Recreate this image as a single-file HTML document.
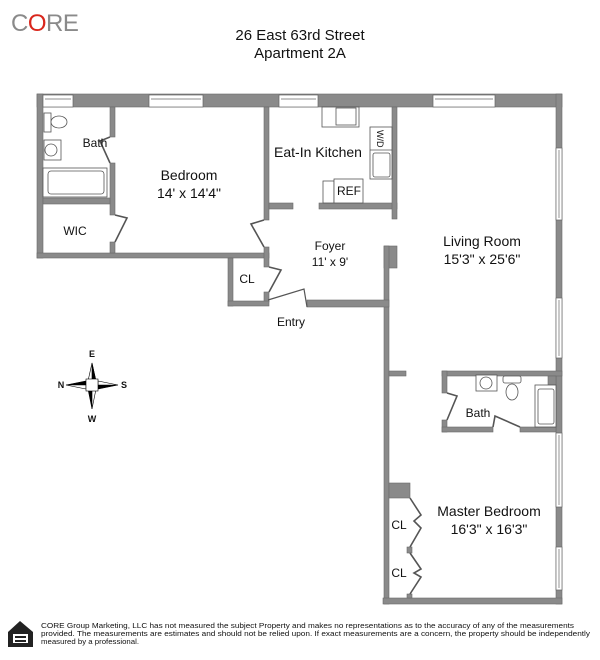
<!DOCTYPE html>
<html><head><meta charset="utf-8"><style>
html,body{margin:0;padding:0;background:#fff;width:600px;height:660px;overflow:hidden}
svg{display:block}
text{font-family:"Liberation Sans",Arial,sans-serif;fill:#111}
</style></head><body>
<svg width="600" height="660" viewBox="0 0 600 660" xmlns="http://www.w3.org/2000/svg">
<text x="11" y="31" font-size="24" fill="#888" style="fill:#8a8a8a;letter-spacing:-0.5px">C<tspan style="fill:#d9261c">O</tspan>RE</text>
<text x="300" y="40" font-size="15" text-anchor="middle">26 East 63rd Street</text>
<text x="300" y="58" font-size="15" text-anchor="middle">Apartment 2A</text>

<g fill="#8a8a8a" stroke="#6a6a6a" stroke-width="0.6">
<rect x="37" y="94" width="525" height="13"/>
<rect x="37" y="94" width="6" height="164"/>
<rect x="37" y="253" width="232" height="5"/>
<rect x="110" y="107" width="5" height="30"/>
<rect x="110" y="163" width="5" height="52"/>
<rect x="110" y="242" width="5" height="11"/>
<rect x="43" y="198" width="67" height="6"/>
<rect x="264" y="107" width="5" height="113"/>
<rect x="264" y="247" width="5" height="20"/>
<rect x="264" y="292" width="5" height="10"/>
<rect x="228" y="258" width="5" height="48"/>
<rect x="228" y="301" width="41" height="5"/>
<rect x="269" y="203" width="24" height="6"/>
<rect x="319" y="203" width="78" height="6"/>
<rect x="392" y="107" width="5" height="112"/>
<rect x="556" y="94" width="6" height="510"/>
<rect x="384" y="246" width="13" height="22"/>
<rect x="384" y="246" width="5" height="358"/>
<rect x="307" y="300" width="82" height="7"/>
<rect x="389" y="371" width="17" height="5"/>
<rect x="442" y="371" width="120" height="5"/>
<rect x="442" y="371" width="5" height="22"/>
<rect x="442" y="420" width="5" height="12"/>
<rect x="442" y="427" width="51" height="5"/>
<rect x="520" y="427" width="36" height="5"/>
<rect x="383" y="598" width="179" height="6"/>
<rect x="389" y="483" width="21" height="15"/>
<rect x="407" y="547" width="5" height="6"/>
<rect x="407" y="594" width="5" height="4"/>
<rect x="548" y="376" width="8" height="9"/>
</g>

<g fill="#fff" stroke="#666" stroke-width="0.7">
<rect x="43" y="95" width="30" height="12"/><line x1="45" y1="99" x2="71" y2="99"/>
<rect x="149" y="95" width="54" height="12"/><line x1="151" y1="99" x2="201" y2="99"/>
<rect x="279" y="95" width="39" height="12"/><line x1="281" y1="99" x2="316" y2="99"/>
<rect x="433" y="95" width="62" height="12"/><line x1="435" y1="99" x2="493" y2="99"/>
<rect x="556" y="148" width="6" height="72"/><line x1="559" y1="150" x2="559" y2="218"/>
<rect x="556" y="298" width="6" height="60"/><line x1="559" y1="300" x2="559" y2="356"/>
<rect x="556" y="433" width="6" height="74"/><line x1="559" y1="435" x2="559" y2="505"/>
<rect x="556" y="547" width="6" height="43"/><line x1="559" y1="549" x2="559" y2="588"/>
</g>

<g fill="none" stroke="#555" stroke-width="1">
<path d="M110 137 L100 141 L110 163" stroke-width="1.6"/>
<path d="M115 215 L127 218 L115 242" stroke-width="1.6"/>
<path d="M264 220 L251 224 L264 247" stroke-width="1.6"/>
<path d="M269 267 L281 270 L269 292" stroke-width="1.6"/>
<path d="M268 300 L304 289 L307 307" stroke-width="1.2"/>
<path d="M447 393 L457 396 L447 420" stroke-width="1.6"/>
<path d="M493 427 L495 416 L520 427" stroke-width="1.6"/>
<path d="M410 498 L421 515 L414 521 L421 528 L410 547" stroke-width="1.6"/>
<path d="M410 553 L421 569 L414 573 L421 577 L410 594" stroke-width="1.6"/>
</g>

<g fill="#fff" stroke="#555" stroke-width="0.8">
<rect x="44" y="113" width="7" height="19"/><ellipse cx="59" cy="122" rx="8" ry="6"/>
<rect x="44" y="140" width="17" height="20"/><circle cx="51" cy="150" r="6"/>
<rect x="43" y="168" width="64" height="29"/><rect x="48" y="171" width="56" height="23" rx="3"/>
<rect x="322" y="107" width="37" height="20"/><rect x="336" y="108" width="20" height="17"/>
<rect x="370" y="127" width="22" height="52"/><line x1="370" y1="150" x2="392" y2="150"/>
<rect x="373" y="153" width="17" height="24" rx="2"/>
<rect x="323" y="181" width="11" height="22"/><rect x="334" y="179" width="29" height="24"/>
<rect x="476" y="375" width="21" height="16"/><circle cx="486" cy="383" r="6"/>
<rect x="503" y="376" width="18" height="7" rx="2"/><ellipse cx="512" cy="392" rx="6" ry="8"/>
<rect x="535" y="385" width="21" height="42"/><rect x="538" y="389" width="16" height="35" rx="2"/>
</g>
<text x="377" y="130" font-size="9" transform="rotate(90 377 130)">W/D</text>

<g fill="#000" stroke="#000" stroke-width="0.6">
<polygon points="92,363 96,381 92,385 88,381" fill="#fff"/>
<polygon points="92,363 96,381 92,381"/>
<polygon points="92,409 88,389 92,389" />
<polygon points="92,409 96,389 92,389" fill="#fff"/>
<polygon points="66,385 86,381 86,385"/>
<polygon points="66,385 86,389 86,385" fill="#fff"/>
<polygon points="118,385 98,389 98,385"/>
<polygon points="118,385 98,381 98,385" fill="#fff"/>
<rect x="86" y="379" width="12" height="12" fill="#fff"/>
</g>
<g font-family="Liberation Serif" font-weight="bold" font-size="9">
<text x="92" y="357" text-anchor="middle">E</text>
<text x="92" y="422" text-anchor="middle">W</text>
<text x="61" y="388" text-anchor="middle">N</text>
<text x="124" y="388" text-anchor="middle">S</text>
</g>

<text x="95" y="147" font-size="12" text-anchor="middle">Bath</text>
<text x="189" y="180" font-size="14" text-anchor="middle">Bedroom</text>
<text x="189" y="198" font-size="14" text-anchor="middle">14' x 14'4"</text>
<text x="75" y="235" font-size="12" text-anchor="middle">WIC</text>
<text x="318" y="157" font-size="14" text-anchor="middle">Eat-In Kitchen</text>
<text x="349" y="195" font-size="12" text-anchor="middle">REF</text>
<text x="330" y="250" font-size="12" text-anchor="middle">Foyer</text>
<text x="330" y="266" font-size="12" text-anchor="middle">11' x 9'</text>
<text x="247" y="283" font-size="12" text-anchor="middle">CL</text>
<text x="291" y="326" font-size="12" text-anchor="middle">Entry</text>
<text x="482" y="246" font-size="14" text-anchor="middle">Living Room</text>
<text x="482" y="264" font-size="14" text-anchor="middle">15'3" x 25'6"</text>
<text x="478" y="417" font-size="12" text-anchor="middle">Bath</text>
<text x="489" y="516" font-size="14" text-anchor="middle">Master Bedroom</text>
<text x="489" y="534" font-size="14" text-anchor="middle">16'3" x 16'3"</text>
<text x="399" y="529" font-size="12" text-anchor="middle">CL</text>
<text x="399" y="577" font-size="12" text-anchor="middle">CL</text>

<g fill="#222">
<polygon points="20,621 33,632 33,647 8,647 8,632"/>
<rect x="13" y="634" width="15" height="9" fill="#fff"/>
<rect x="15" y="636" width="11" height="2"/><rect x="15" y="640" width="11" height="2"/>
</g>
<g font-size="7.5" style="fill:#222">
<text x="41" y="628" textLength="533" lengthAdjust="spacingAndGlyphs">CORE Group Marketing, LLC has not measured the subject Property and makes no representations as to the accuracy of any of the measurements</text>
<text x="41" y="636" textLength="549" lengthAdjust="spacingAndGlyphs">provided. The measurements are estimates and should not be relied upon. If exact measurements are a concern, the property should be independently</text>
<text x="41" y="644" textLength="98" lengthAdjust="spacingAndGlyphs">measured by a professional.</text>
</g>
</svg>
</body></html>
